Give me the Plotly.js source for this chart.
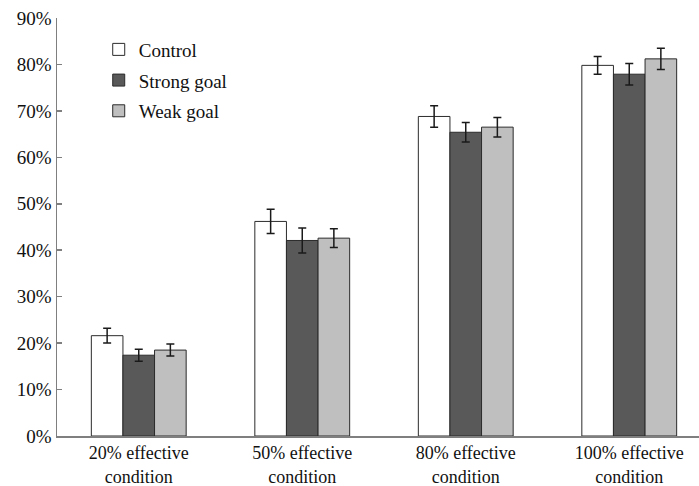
<!DOCTYPE html>
<html>
<head>
<meta charset="utf-8">
<script src="https://cdn.plot.ly/plotly-3.0.1.min.js"></script>
<style>html,body{margin:0;padding:0;background:#fff;}#chart{width:699px;height:486px;}</style>
</head>
<body>
<div id="chart"></div>
<script>
const categories = ["20% effective<br>condition", "50% effective<br>condition", "80% effective<br>condition", "100% effective<br>condition"];
const seriesNames = ["Control", "Strong goal", "Weak goal"];
const control = [21.6, 46.2, 68.8, 79.8];
const controlErr = [1.6, 2.6, 2.3, 1.9];
const strongGoal = [17.4, 42.1, 65.4, 77.9];
const strongErr = [1.3, 2.7, 2.1, 2.3];
const weakGoal = [18.5, 42.6, 66.5, 81.2];
const weakErr = [1.3, 2.0, 2.1, 2.3];
const yTicks = [0, 10, 20, 30, 40, 50, 60, 70, 80, 90];

const colors = ["#ffffff", "#595959", "#bfbfbf"];
const values = [control, strongGoal, weakGoal];
const errs = [controlErr, strongErr, weakErr];

const traces = seriesNames.map((name, i) => ({
  type: "bar",
  name: name,
  legendgroup: "g" + i,
  x: categories,
  y: values[i],
  marker: {color: colors[i], line: {color: "#2b2b2b", width: 1}},
  error_y: {type: "data", array: errs[i], visible: true, color: "#1a1a1a", thickness: 1.5, width: 4}
}));

const serif = "Times New Roman";

const layout = {
  width: 699, height: 486,
  margin: {l: 57, r: 0, t: 18, b: 50, pad: 0},
  paper_bgcolor: "#fff", plot_bgcolor: "#fff",
  font: {family: serif, size: 19, color: "#111"},
  barmode: "group",
  bargap: 0.42,
  bargroupgap: 0,
  showlegend: true,
  legend: {x: 0.065, y: 0.97, xanchor: "left", yanchor: "top", bgcolor: "rgba(0,0,0,0)",
           font: {family: serif, size: 19}, traceorder: "grouped", tracegroupgap: 3},
  xaxis: {
    type: "category",
    range: [-0.5, -0.5 + 642 / 163.5],
    showline: true, linecolor: "#7f7f7f", linewidth: 1.5,
    ticks: "", showgrid: false, zeroline: false,
    tickfont: {family: serif, size: 18}
  },
  yaxis: {
    range: [0, 90],
    tickvals: yTicks,
    ticktext: yTicks.map(v => v + "%"),
    showline: true, linecolor: "#7f7f7f", linewidth: 1.5,
    ticks: "inside", ticklen: 5, tickcolor: "#7f7f7f", tickwidth: 1.5,
    showgrid: false, zeroline: false,
    tickfont: {family: serif, size: 19}
  }
};

Plotly.newPlot("chart", traces, layout, {displayModeBar: false, staticPlot: true});
</script>
</body>
</html>
